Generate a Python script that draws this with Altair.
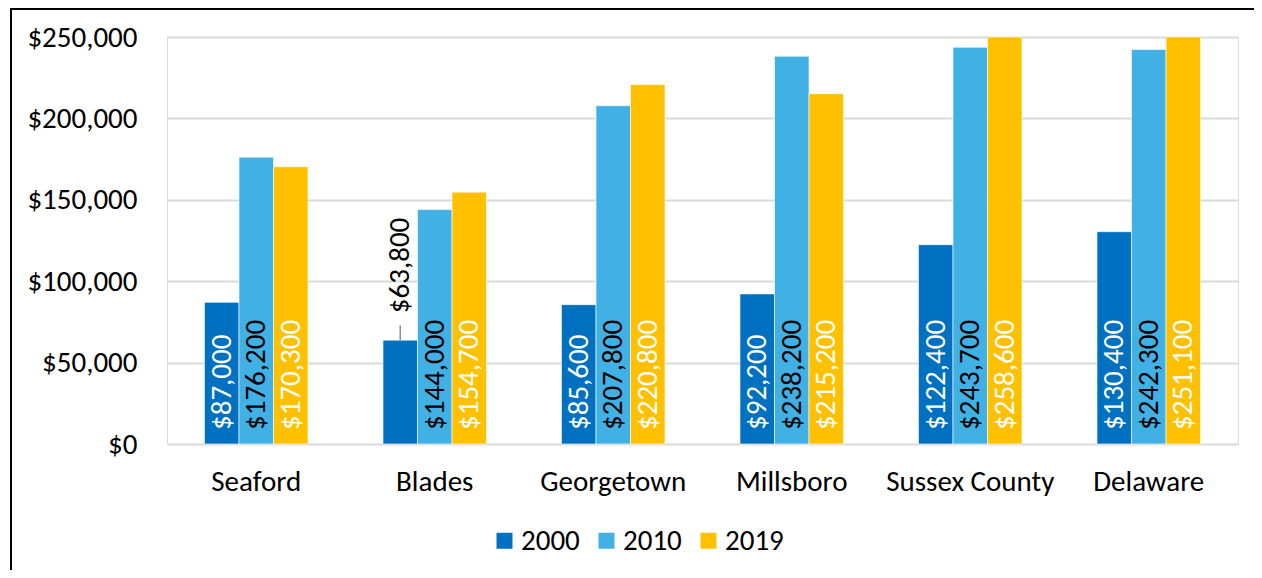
import altair as alt
import pandas as pd

categories = ["Seaford", "Blades", "Georgetown", "Millsboro", "Sussex County", "Delaware"]
years = ["2000", "2010", "2019"]
v2000 = [87000, 63800, 85600, 92200, 122400, 130400]
v2010 = [176200, 144000, 207800, 238200, 243700, 242300]
v2019 = [170300, 154700, 220800, 215200, 258600, 251100]
colors = ["#0070C0", "#41B0E4", "#FFC000"]
label_colors = {"2000": "white", "2010": "black", "2019": "white"}
outside_labels = [("Blades", "2000")]
y_ticks = [0, 50000, 100000, 150000, 200000, 250000]

rows = []
for yr, vals in zip(years, [v2000, v2010, v2019]):
    for c, v in zip(categories, vals):
        outside = (c, yr) in outside_labels
        rows.append({"Category": c, "Year": yr, "Value": v,
                     "LabelColor": "black" if outside else label_colors[yr],
                     "Outside": outside})
df = pd.DataFrame(rows)

FONT = "Carlito, 'Open Sans', sans-serif"
FS = 29

x = alt.X("Category:N", sort=categories, title=None,
          scale=alt.Scale(paddingInner=0.42, paddingOuter=0.21),
          axis=alt.Axis(labelAngle=0, labelFontSize=FS, labelPadding=23,
                        ticks=False, domain=False, labelColor="black", labelFont=FONT))
xo = alt.XOffset("Year:N", sort=years)
yscale = alt.Scale(domain=[0, 250000], clamp=True, nice=False)

base = alt.Chart(df)

bars = base.mark_bar(stroke="white", strokeWidth=0.6).encode(
    x=x, xOffset=xo,
    y=alt.Y("Value:Q", scale=yscale, title=None,
            axis=alt.Axis(values=y_ticks, format="$,.0f", labelFontSize=FS,
                          labelPadding=30, ticks=False, domain=False,
                          gridColor="#D9D9D9", gridWidth=2, labelColor="black",
                          labelFont=FONT)),
    color=alt.Color("Year:N", sort=years,
                    scale=alt.Scale(domain=years, range=colors),
                    legend=alt.Legend(title=None, orient="none", direction="horizontal",
                                      legendX=323, legendY=489, symbolType="square",
                                      symbolSize=256, labelFontSize=FS, labelFont=FONT,
                                      labelOffset=2, columnPadding=12,
                                      symbolStrokeWidth=0, labelColor="black")),
)

inside = base.transform_filter("!datum.Outside").transform_calculate(
    Zero="0").mark_text(angle=270, align="left", baseline="middle", dx=14,
                        fontSize=FS, font=FONT).encode(
    x=x, xOffset=xo,
    y=alt.Y("Zero:Q", scale=yscale),
    text=alt.Text("Value:Q", format="$,.0f"),
    color=alt.Color("LabelColor:N", scale=None),
)

outside_text = base.transform_filter("datum.Outside").mark_text(
    angle=270, align="left", baseline="middle", dx=27, fontSize=FS, font=FONT,
    color="black").encode(
    x=x, xOffset=xo,
    y=alt.Y("Value:Q", scale=yscale),
    text=alt.Text("Value:Q", format="$,.0f"),
)

leader = base.transform_filter("datum.Outside").transform_calculate(
    Top="datum.Value + 9000").mark_rule(color="#8C8C8C", strokeWidth=1.5).encode(
    x=x, xOffset=xo,
    y=alt.Y("Value:Q", scale=yscale),
    y2="Top:Q",
)

border_df = pd.DataFrame({"k": [0]})
top_border = alt.Chart(border_df).mark_rule(color="black", strokeWidth=2).encode(
    x=alt.value(-156), x2=alt.value(1095), y=alt.value(-28))
left_border = alt.Chart(border_df).mark_rule(color="black", strokeWidth=2).encode(
    x=alt.value(-156), y=alt.value(-29), y2=alt.value(541))

chart = alt.layer(bars, inside, outside_text, leader, top_border, left_border).properties(
    width=1071, height=407,
    autosize=alt.AutoSizeParams(type="none"),
    padding={"left": 159, "top": 29, "right": 16, "bottom": 126},
).configure_view(stroke=None).configure(background="white")

chart.save("out.html", embed_options={"renderer": "svg", "actions": False})
